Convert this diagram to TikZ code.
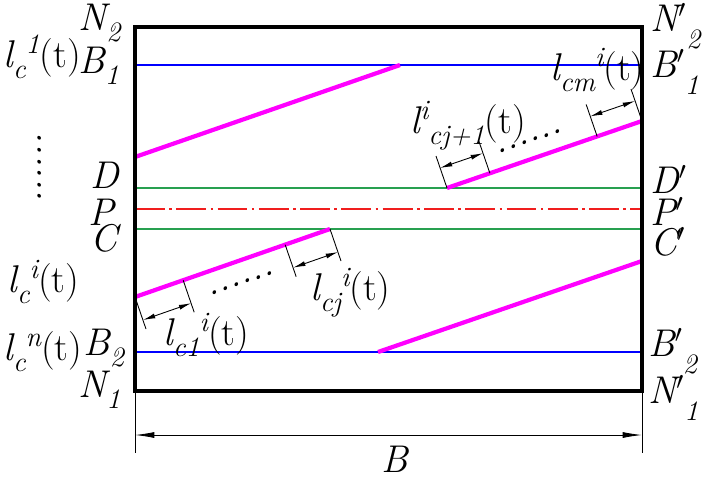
\documentclass[tikz,border=0pt]{standalone}
\usepackage{tikz}
\usetikzlibrary{calc}
\usetikzlibrary{arrows.meta}
\definecolor{lineblue}{RGB}{0,0,255}
\definecolor{linegreen}{RGB}{40,160,80}
\definecolor{linered}{RGB}{240,30,30}
\definecolor{stripe}{RGB}{255,0,255}
\newcommand{\lbl}{\fontsize{22}{26}\selectfont\itshape}
\newcommand{\sml}{\fontsize{16}{19}\selectfont}
\newcommand{\dn}[1]{\raisebox{-0.3em}{\sml #1}}
\newcommand{\dnn}[1]{\raisebox{-0.45em}{\sml #1}}
\newcommand{\up}[1]{\raisebox{0.35em}{\sml #1}}
\newcommand{\timearg}{\textup{(t)}}
\newcommand{\prm}{$'$}
\newcommand{\dimseg}[4]{%
    \draw[ext] (#1) -- ++(#3);
    \draw[ext] (#2) -- ++(#3);
    \draw[dimarrow] ($(#1)+(#4)$) -- ($(#2)+(#4)$);
}
\tikzset{
    frame/.style={line width=2.2pt},
    bline/.style={lineblue, line width=0.7pt},
    gline/.style={linegreen, line width=0.7pt},
    axis/.style={linered, line width=0.7pt, dash pattern=on 17pt off 2.5pt on 1.5pt off 2.5pt},
    strip/.style={stripe, line width=2.4pt},
    ext/.style={line width=0.5pt},
    dimarrow/.style={line width=0.5pt, {Latex[length=7pt,width=2.8pt]}-{Latex[length=7pt,width=2.8pt]}},
    bigdim/.style={line width=0.5pt, {Latex[length=11pt,width=3.4pt]}-{Latex[length=11pt,width=3.4pt]}},
    lab/.style={anchor=base west, inner sep=0pt}
}
\begin{document}
\begin{tikzpicture}[x=0.02cm, y=-0.02cm, every node/.style={inner sep=0pt, font=\lbl}]
    \useasboundingbox (0,0) rectangle (707,478);

    % frame corners and horizontal levels
    \coordinate (tl) at (135,27);
    \coordinate (br) at (642,391);
    \coordinate (b1l) at (135,65);  \coordinate (b1r) at (642,65);
    \coordinate (dl) at (135,188);  \coordinate (dr) at (642,188);
    \coordinate (pl) at (135,209);  \coordinate (pr) at (642,209);
    \coordinate (cl) at (135,229);  \coordinate (cr) at (642,229);
    \coordinate (b2l) at (135,352); \coordinate (b2r) at (642,352);

    \draw[bline] (b1l) -- (b1r);
    \draw[bline] (b2l) -- (b2r);
    \draw[gline] (dl) -- (dr);
    \draw[gline] (cl) -- (cr);
    \draw[axis] (pl) -- (pr);

    % stripes
    \coordinate (s1a) at (135,157); \coordinate (s1b) at (400,65);
    \coordinate (s2a) at (447,188); \coordinate (s2b) at (642,121);
    \coordinate (s3a) at (135,297); \coordinate (s3b) at (330,229);
    \coordinate (s4a) at (378,352); \coordinate (s4b) at (642,261);
    \coordinate (s2c) at ($(s2a)!0.22!(s2b)$);
    \coordinate (s2d) at ($(s2a)!0.77!(s2b)$);
    \coordinate (s3c) at ($(s3a)!0.247!(s3b)$);
    \coordinate (s3d) at ($(s3a)!0.77!(s3b)$);

    \draw[strip] (s1a) -- (s1b);
    \draw[strip] (s2a) -- (s2b);
    \draw[strip] (s3a) -- (s3b);
    \draw[strip] (s4a) -- (s4b);

    \draw[frame] (tl) rectangle (br);

    % segment dimensions
    \dimseg{s3a}{s3c}{11,32}{8,23}
    \dimseg{s3d}{s3b}{11,32}{8,23}
    \dimseg{s2a}{s2c}{-11,-32}{-7,-20}
    \dimseg{s2d}{s2b}{-11,-32}{-7,-20}

    \node[rotate=19] (dotsl) at (242,283) {......};
    \node[rotate=19] (dotsr) at (530,141) {......};
    \node[rotate=90] (dotsv) at (40,168) {......};

    % width B
    \coordinate (bl) at (135,453);
    \coordinate (brr) at (642,453);
    \coordinate (al) at (135,435);
    \coordinate (ar) at (642,435);
    \draw[ext] (tl |- br) -- (bl);
    \draw[ext] (br) -- (brr);
    \draw[bigdim] (al) -- (ar);
    \node[anchor=base] (width) at (395,472) {B};

    % left labels
    \node[lab] (N2) at (78,30) {N\dn{2}};
    \node[lab] (B1) at (78,73) {B\dn{1}};
    \node[lab] (lc1) at (3,67) {l\dn{c}\up{1}\timearg};
    \node[lab] (D) at (90,188) {D};
    \node[lab] (P) at (88,225) {P};
    \node[lab] (C) at (90,251) {C};
    \node[lab] (lci) at (7,292) {l\dn{c}\up{i}\timearg};
    \node[lab] (lcn) at (3,360) {l\dn{c}\up{n}\timearg};
    \node[lab] (B2) at (83,355) {B\dn{2}};
    \node[lab] (N1) at (78,397) {N\dn{1}};

    % right labels
    \node[lab] (N2p) at (650,31) {N\prm\dnn{2}};
    \node[lab] (B1p) at (650,77) {B\prm\dnn{1}};
    \node[lab] (Dp) at (650,193) {D\prm};
    \node[lab] (Pp) at (650,225) {P\prm};
    \node[lab] (Cp) at (650,255) {C\prm};
    \node[lab] (B2p) at (648,356) {B\prm\dnn{2}};
    \node[lab] (N1p) at (648,403) {N\prm\dnn{1}};

    % segment labels
    \node[lab] (lcone) at (163,345) {l\dn{c1}\up{i}\timearg};
    \node[lab] (lcj) at (310,300) {l\dn{cj}\up{i}\timearg};
    \node[lab] (lcjn) at (410,133) {l\up{i}\dn{cj+1}\timearg};
    \node[lab] (lcm) at (550,80) {l\dn{cm}\up{i}\timearg};
\end{tikzpicture}
\end{document}
